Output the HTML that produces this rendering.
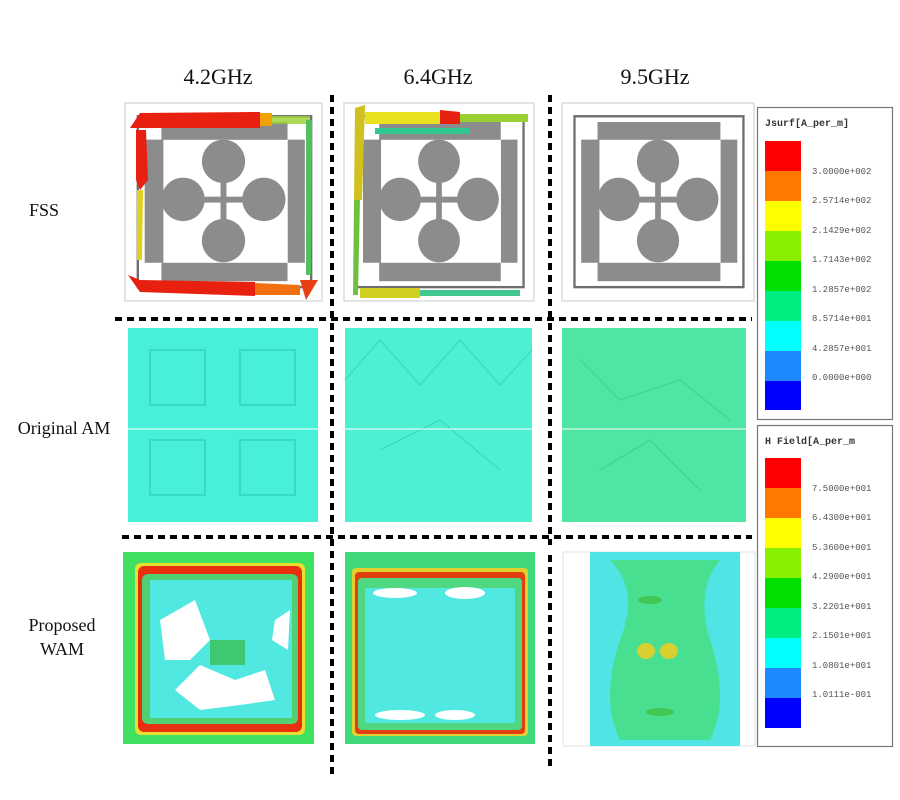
<!DOCTYPE html>
<html><head><meta charset="utf-8"><style>
html,body{margin:0;padding:0;background:#fff;}
svg{display:block;}
</style></head><body>
<svg width="900" height="800" viewBox="0 0 900 800" xmlns="http://www.w3.org/2000/svg">
<defs>
<g id="fss">
  <rect x="0" y="0" width="100" height="100" fill="#fff" stroke="#e4e4e4" stroke-width="1"/>
  <rect x="6.5" y="6.7" width="88" height="86.3" fill="none" stroke="#6e6e6e" stroke-width="1.2"/>
  <rect x="18.5" y="9.6" width="64" height="9" fill="#8c8c8c"/>
  <rect x="18.5" y="80.7" width="64" height="9.3" fill="#8c8c8c"/>
  <rect x="10" y="18.5" width="9.5" height="62.2" fill="#8c8c8c"/>
  <rect x="82.6" y="18.5" width="8.7" height="62.2" fill="#8c8c8c"/>
  <rect x="48.5" y="30" width="3" height="40" fill="#8c8c8c"/>
  <rect x="29" y="47.3" width="41" height="3" fill="#8c8c8c"/>
  <ellipse cx="50" cy="29.5" rx="11" ry="11" fill="#8c8c8c"/>
  <ellipse cx="50" cy="69.5" rx="11" ry="11" fill="#8c8c8c"/>
  <ellipse cx="29.5" cy="48.7" rx="11" ry="11" fill="#8c8c8c"/>
  <ellipse cx="70.5" cy="48.7" rx="11" ry="11" fill="#8c8c8c"/>
</g>
</defs>

<!-- headers -->
<g font-family="Liberation Serif, serif" font-size="22" fill="#111" text-anchor="middle">
<text x="218" y="84">4.2GHz</text>
<text x="438" y="84">6.4GHz</text>
<text x="655" y="84">9.5GHz</text>
</g>
<g font-family="Liberation Serif, serif" font-size="18" fill="#111" text-anchor="middle">
<text x="44" y="216">FSS</text>
<text x="64" y="434">Original AM</text>
<text x="62" y="631">Proposed</text>
<text x="62" y="655">WAM</text>
</g>

<!-- row 1 FSS -->
<g transform="translate(125,103) scale(1.97,1.98)"><use href="#fss"/></g>
<g transform="translate(344,103) scale(1.9,1.98)"><use href="#fss"/></g>
<g transform="translate(562,103) scale(1.92,1.98)"><use href="#fss"/></g>
<!-- arrows cell 1 -->
<polygon points="130,128 140,113 260,112 260,128" fill="#e82010"/>
<polygon points="260,113 272,113 272,126 260,126" fill="#f0a000"/>
<polygon points="272,116 310,116 310,124 272,124" fill="#9ad030" opacity="0.8"/>
<polygon points="136,130 146,130 148,180 140,190 136,180" fill="#e82010"/>
<polygon points="137,190 143,190 142,260 137,260" fill="#e0d020"/>
<polygon points="128,275 140,292 255,296 255,282 140,280" fill="#e82010"/>
<polygon points="255,283 300,285 300,295 255,295" fill="#f07010"/>
<polygon points="300,280 318,280 306,300" fill="#e84010"/>
<polygon points="306,120 312,120 311,275 306,275" fill="#50c060"/>
<!-- arrows cell 2 -->
<polygon points="365,112 440,112 440,124 365,124" fill="#e8e020"/>
<polygon points="440,110 460,112 460,124 440,124" fill="#e82010"/>
<polygon points="460,114 528,114 528,122 460,122" fill="#9ad030"/>
<polygon points="355,108 365,105 362,200 354,200" fill="#d0c020"/>
<polygon points="354,200 360,200 358,295 353,295" fill="#70c040"/>
<polygon points="360,288 420,288 420,298 360,298" fill="#d0d020"/>
<polygon points="420,290 520,290 520,296 420,296" fill="#40c890"/>
<polygon points="375,128 470,128 470,134 375,134" fill="#30c890"/>

<!-- dotted separators -->
<g stroke="#000" stroke-width="4" stroke-dasharray="7,5" fill="none">
<line x1="332" y1="95" x2="332" y2="775"/>
<line x1="550" y1="95" x2="550" y2="545"/>
<line x1="550" y1="555" x2="550" y2="770"/>
<line x1="115" y1="319" x2="752" y2="319"/>
<line x1="122" y1="537" x2="752" y2="537"/>
</g>

<!-- row 2 -->
<rect x="128" y="328" width="190" height="194" fill="#48f0da"/>
<g stroke="#30d0c0" stroke-width="2" fill="none" opacity="0.7">
<rect x="150" y="350" width="55" height="55"/><rect x="240" y="350" width="55" height="55"/>
<rect x="150" y="440" width="55" height="55"/><rect x="240" y="440" width="55" height="55"/>
</g>
<rect x="345" y="328" width="187" height="194" fill="#4ff0d2"/>
<g stroke="#38d2c0" stroke-width="1.5" fill="none" opacity="0.7">
<polyline points="345,380 380,340 420,385 460,340 500,385 532,350"/>
<polyline points="380,450 440,420 500,470"/>
</g>
<rect x="562" y="328" width="184" height="194" fill="#4ee6a2"/>
<g stroke="#38d090" stroke-width="1.5" fill="none" opacity="0.7">
<polyline points="580,360 620,400 680,380 730,420"/><polyline points="600,470 650,440 700,490"/>
</g>
<line x1="115" y1="429" x2="752" y2="429" stroke="#ffffff" stroke-width="1"/>

<!-- row 3 -->
<rect x="123" y="552" width="191" height="192" fill="#40e060"/>
<rect x="135" y="563" width="170" height="172" fill="#e8e030" rx="6"/>
<rect x="138" y="566" width="164" height="166" fill="#e83010" rx="6"/>
<rect x="142" y="574" width="156" height="150" fill="#50d070" rx="6"/>
<rect x="150" y="580" width="142" height="138" fill="#50e8e0"/>
<path d="M160,620 L195,600 L210,640 L190,660 L165,660 Z" fill="#fff"/>
<path d="M275,620 L290,610 L288,650 L272,640 Z" fill="#fff"/>
<path d="M175,690 L200,665 L235,680 L265,670 L275,700 L240,705 L200,710 Z" fill="#fff"/>
<rect x="210" y="640" width="35" height="25" fill="#40c870"/>

<rect x="345" y="552" width="190" height="192" fill="#40d878"/>
<rect x="352" y="568" width="176" height="168" fill="#e0d030" rx="4"/>
<rect x="355" y="572" width="170" height="162" fill="#e04010" rx="4"/>
<rect x="358" y="578" width="164" height="152" fill="#50d880" rx="4"/>
<rect x="365" y="588" width="150" height="135" fill="#50e8e0"/>
<ellipse cx="395" cy="593" rx="22" ry="5" fill="#fff"/>
<ellipse cx="465" cy="593" rx="20" ry="6" fill="#fff"/>
<ellipse cx="400" cy="715" rx="25" ry="5" fill="#fff"/>
<ellipse cx="455" cy="715" rx="20" ry="5" fill="#fff"/>

<rect x="563" y="552" width="192" height="194" fill="#fff" stroke="#e0e0e0"/>
<rect x="590" y="552" width="150" height="194" fill="#50e4e4"/>
<path d="M610,560 Q640,590 620,640 Q600,700 620,740 L710,740 Q730,700 710,640 Q695,590 720,560 Z" fill="#48e090"/>
<ellipse cx="646" cy="651" rx="9" ry="8" fill="#d8d030"/>
<ellipse cx="669" cy="651" rx="9" ry="8" fill="#d8d030"/>
<ellipse cx="650" cy="600" rx="12" ry="4" fill="#40c850"/>
<ellipse cx="660" cy="712" rx="14" ry="4" fill="#40c850"/>

<!-- legend 1 -->
<rect x="757.5" y="107.5" width="135" height="312" fill="#fff" stroke="#777" stroke-width="1.2"/>
<text x="765" y="126" font-family="Liberation Mono, monospace" font-size="10" font-weight="bold" fill="#333">Jsurf[A_per_m]</text>
<g>
<rect x="765" y="141" width="36" height="30" fill="#ff0000"/>
<rect x="765" y="171" width="36" height="30" fill="#ff7800"/>
<rect x="765" y="201" width="36" height="30" fill="#ffff00"/>
<rect x="765" y="231" width="36" height="30" fill="#88f000"/>
<rect x="765" y="261" width="36" height="30" fill="#00e000"/>
<rect x="765" y="291" width="36" height="30" fill="#00ee80"/>
<rect x="765" y="321" width="36" height="30" fill="#00ffff"/>
<rect x="765" y="351" width="36" height="30" fill="#1e88ff"/>
<rect x="765" y="381" width="36" height="29" fill="#0000ff"/>
</g>
<g font-family="Liberation Mono, monospace" font-size="9" fill="#555">
<text x="812" y="174">3.0000e+002</text>
<text x="812" y="203">2.5714e+002</text>
<text x="812" y="233">2.1429e+002</text>
<text x="812" y="262">1.7143e+002</text>
<text x="812" y="292">1.2857e+002</text>
<text x="812" y="321">8.5714e+001</text>
<text x="812" y="351">4.2857e+001</text>
<text x="812" y="380">0.0000e+000</text>
</g>

<!-- legend 2 -->
<rect x="757.5" y="425.5" width="135" height="321" fill="#fff" stroke="#777" stroke-width="1.2"/>
<text x="765" y="444" font-family="Liberation Mono, monospace" font-size="10" font-weight="bold" fill="#333">H Field[A_per_m</text>
<g>
<rect x="765" y="458" width="36" height="30" fill="#ff0000"/>
<rect x="765" y="488" width="36" height="30" fill="#ff7800"/>
<rect x="765" y="518" width="36" height="30" fill="#ffff00"/>
<rect x="765" y="548" width="36" height="30" fill="#88f000"/>
<rect x="765" y="578" width="36" height="30" fill="#00e000"/>
<rect x="765" y="608" width="36" height="30" fill="#00ee80"/>
<rect x="765" y="638" width="36" height="30" fill="#00ffff"/>
<rect x="765" y="668" width="36" height="30" fill="#1e88ff"/>
<rect x="765" y="698" width="36" height="30" fill="#0000ff"/>
</g>
<g font-family="Liberation Mono, monospace" font-size="9" fill="#555">
<text x="812" y="491">7.5000e+001</text>
<text x="812" y="520">6.4300e+001</text>
<text x="812" y="550">5.3600e+001</text>
<text x="812" y="579">4.2900e+001</text>
<text x="812" y="609">3.2201e+001</text>
<text x="812" y="638">2.1501e+001</text>
<text x="812" y="668">1.0801e+001</text>
<text x="812" y="697">1.0111e-001</text>
</g>
</svg>
</body></html>
